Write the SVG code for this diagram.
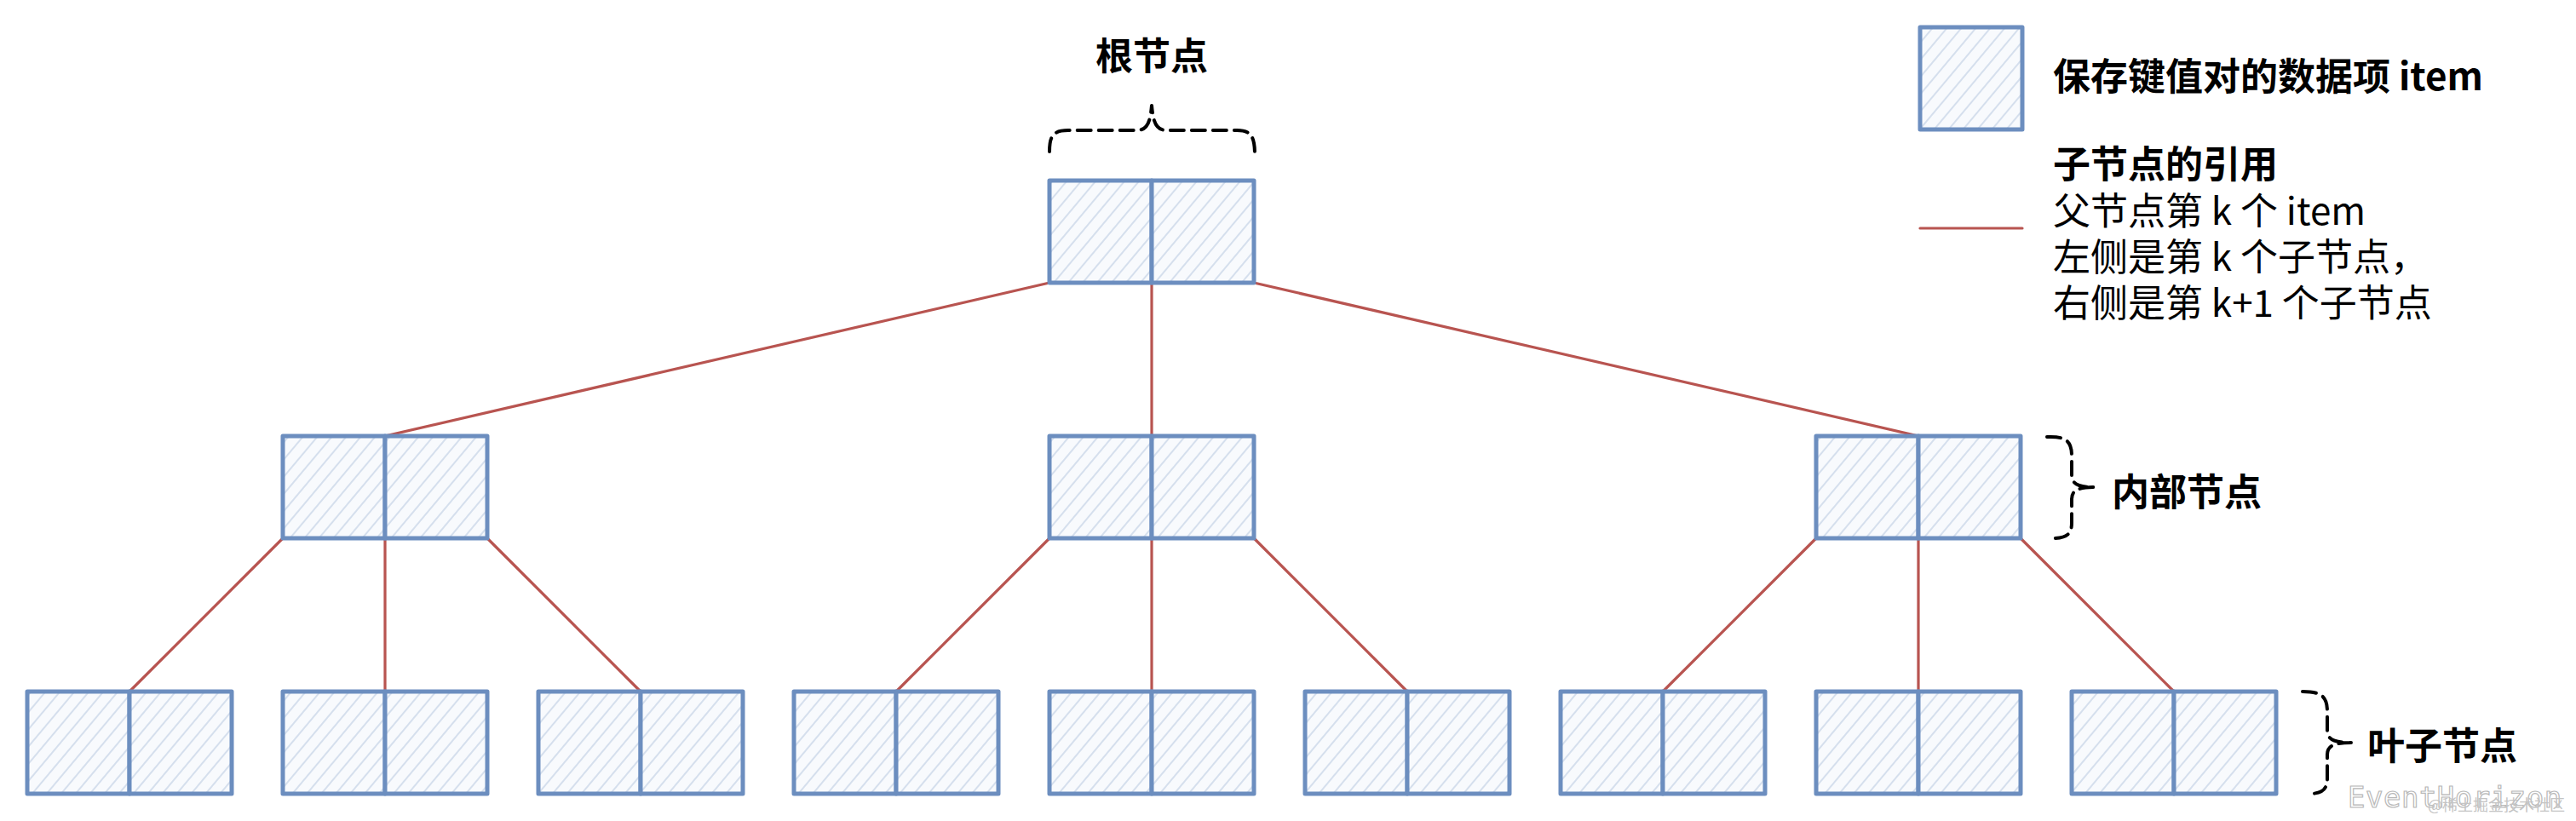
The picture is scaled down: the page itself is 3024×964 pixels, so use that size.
<svg xmlns="http://www.w3.org/2000/svg" width="3024" height="964" viewBox="0 0 3024 964">
  <defs>
    <pattern id="hatch" patternUnits="userSpaceOnUse" width="13" height="13" patternTransform="rotate(40)">
      <rect width="13" height="13" fill="#f8fafd"/>
      <line x1="4" y1="0" x2="4" y2="13" stroke="#cdd9ea" stroke-width="1.6"/>
    </pattern>
  </defs>
  <style>
    .cell { fill: url(#hatch); stroke: #6c8ebf; stroke-width: 5; stroke-linejoin: round; }
    .edge { stroke: #b85450; stroke-width: 3.2; fill: none; stroke-linecap: round; }
    .brace { stroke: #000; stroke-width: 4; fill: none; stroke-dasharray: 16 9; stroke-linecap: round; stroke-linejoin: round; }
    .title { font-family: "Noto Sans CJK SC", "Noto Sans", sans-serif; font-size: 44px; font-weight: bold; fill: #000; }
    .legend { font-family: "Noto Sans CJK SC", "Noto Sans", sans-serif; font-size: 44px; fill: #000; }
    .bold { font-weight: bold; }
    .wm { font-family: "DejaVu Sans Mono", "Liberation Mono", monospace; font-size: 34px; fill: #ffffff; stroke: #b8b8b8; stroke-width: 1.2; letter-spacing: 0.5px; }
    .wm2 { font-family: "Noto Sans CJK SC", sans-serif; font-size: 18px; fill: #c4c4c4; }
  </style>

  <rect width="3024" height="964" fill="#ffffff"/>

  <!-- connectors -->
  <g id="connectors">
    <line class="edge" x1="1232" y1="332" x2="452" y2="512"/>
    <line class="edge" x1="1352" y1="332" x2="1352" y2="512"/>
    <line class="edge" x1="1472" y1="332" x2="2252" y2="512"/>
    <line class="edge" x1="332" y1="632" x2="152" y2="812"/>
    <line class="edge" x1="452" y1="632" x2="452" y2="812"/>
    <line class="edge" x1="572" y1="632" x2="752" y2="812"/>
    <line class="edge" x1="1232" y1="632" x2="1052" y2="812"/>
    <line class="edge" x1="1352" y1="632" x2="1352" y2="812"/>
    <line class="edge" x1="1472" y1="632" x2="1652" y2="812"/>
    <line class="edge" x1="2132" y1="632" x2="1952" y2="812"/>
    <line class="edge" x1="2252" y1="632" x2="2252" y2="812"/>
    <line class="edge" x1="2372" y1="632" x2="2552" y2="812"/>
  </g>

  <!-- root -->
  <g id="root">
    <rect class="cell" x="1232" y="212" width="120" height="120"/>
    <rect class="cell" x="1352" y="212" width="120" height="120"/>
  </g>

  <!-- internal nodes -->
  <g id="internal-1">
    <rect class="cell" x="332" y="512" width="120" height="120"/>
    <rect class="cell" x="452" y="512" width="120" height="120"/>
  </g>
  <g id="internal-2">
    <rect class="cell" x="1232" y="512" width="120" height="120"/>
    <rect class="cell" x="1352" y="512" width="120" height="120"/>
  </g>
  <g id="internal-3">
    <rect class="cell" x="2132" y="512" width="120" height="120"/>
    <rect class="cell" x="2252" y="512" width="120" height="120"/>
  </g>

  <!-- leaf nodes -->
  <g id="leaf-1">
    <rect class="cell" x="32" y="812" width="120" height="120"/>
    <rect class="cell" x="152" y="812" width="120" height="120"/>
  </g>
  <g id="leaf-2">
    <rect class="cell" x="332" y="812" width="120" height="120"/>
    <rect class="cell" x="452" y="812" width="120" height="120"/>
  </g>
  <g id="leaf-3">
    <rect class="cell" x="632" y="812" width="120" height="120"/>
    <rect class="cell" x="752" y="812" width="120" height="120"/>
  </g>
  <g id="leaf-4">
    <rect class="cell" x="932" y="812" width="120" height="120"/>
    <rect class="cell" x="1052" y="812" width="120" height="120"/>
  </g>
  <g id="leaf-5">
    <rect class="cell" x="1232" y="812" width="120" height="120"/>
    <rect class="cell" x="1352" y="812" width="120" height="120"/>
  </g>
  <g id="leaf-6">
    <rect class="cell" x="1532" y="812" width="120" height="120"/>
    <rect class="cell" x="1652" y="812" width="120" height="120"/>
  </g>
  <g id="leaf-7">
    <rect class="cell" x="1832" y="812" width="120" height="120"/>
    <rect class="cell" x="1952" y="812" width="120" height="120"/>
  </g>
  <g id="leaf-8">
    <rect class="cell" x="2132" y="812" width="120" height="120"/>
    <rect class="cell" x="2252" y="812" width="120" height="120"/>
  </g>
  <g id="leaf-9">
    <rect class="cell" x="2432" y="812" width="120" height="120"/>
    <rect class="cell" x="2552" y="812" width="120" height="120"/>
  </g>

  <!-- root label + brace -->
  <g id="root-label">
    <path class="brace" d="M1232,178 C1232,160 1236,153 1254,153 L1334,153 C1346,153 1350,146 1352,124 C1354,146 1358,153 1370,153 L1452,153 C1469,153 1473,161 1473,182"/>
    <text class="title" x="1352" y="82" text-anchor="middle">根节点</text>
  </g>

  <!-- internal label + brace -->
  <g id="internal-label">
    <path class="brace" d="M2403,513 C2425,512 2432,518 2432,535 L2432,558 C2432,567 2438,572 2458,572 C2438,572 2432,577 2432,586 L2432,614 C2432,628 2425,632 2410,632"/>
    <text class="title" x="2479" y="594">内部节点</text>
  </g>

  <!-- leaf label + brace -->
  <g id="leaf-label">
    <path class="brace" d="M2703,812 C2725,812 2732,818 2732,835 L2732,858 C2732,867 2738,872 2760,872 C2738,872 2732,877 2732,886 L2732,914 C2732,928 2725,932 2710,932"/>
    <text class="title" x="2779" y="892">叶子节点</text>
  </g>

  <!-- legend -->
  <g id="legend-item">
    <rect class="cell" x="2254" y="32" width="120" height="120"/>
    <text class="legend bold" x="2410" y="106">保存键值对的数据项 item</text>
  </g>
  <g id="legend-edge">
    <line class="edge" x1="2254" y1="268" x2="2374" y2="268"/>
    <text class="legend bold" x="2410" y="209">子节点的引用</text>
    <text class="legend" x="2410" y="264">父节点第 k 个 item</text>
    <text class="legend" x="2410" y="318">左侧是第 k 个子节点，</text>
    <text class="legend" x="2410" y="372">右侧是第 k+1 个子节点</text>
  </g>

  <!-- watermark -->
  <g id="watermark">
    <text class="wm" x="2756" y="948">EventHorizon</text>
    <text class="wm2" x="2850" y="952">@稀土掘金技术社区</text>
  </g>
</svg>
